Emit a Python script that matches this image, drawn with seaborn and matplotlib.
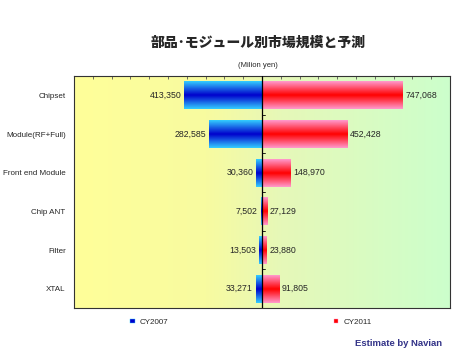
import numpy as np
import pandas as pd
import seaborn as sns
import matplotlib.pyplot as plt
from matplotlib.colors import LinearSegmentedColormap
from matplotlib.patches import Patch

# market size by component (million yen)
categories = ['Chipset', 'Module(RF+Full)', 'Front end Module', 'Chip ANT', 'Filter', 'XTAL']
cy2007 = [413350, 282585, 30360, 7502, 13503, 33271]
cy2011 = [747068, 452428, 148970, 27129, 23880, 91805]
years = ['CY2007', 'CY2011']

sns.set_style('white')
plt.rcParams['font.family'] = ['Liberation Sans', 'DejaVu Sans']

df = pd.DataFrame({
    'category': categories * 2,
    'value': [-v for v in cy2007] + cy2011,
    'year': [years[0]] * len(categories) + [years[1]] * len(categories),
})

fig = plt.figure(figsize=(4.55, 3.52), dpi=100)
ax = fig.add_axes([0.1626, 0.125, 0.8264, 0.659])

sns.barplot(data=df, x='value', y='category', hue='year', dodge=False,
            order=categories, hue_order=years, width=0.72,
            palette=['#0000cc', '#ff0000'], legend=False, ax=ax)

xlim = (-1000000, 1000000)
ylim = (len(categories) - 0.5, -0.5)

# background gradient yellow -> green
bg = LinearSegmentedColormap.from_list('bg', [(0, '#ffff99'), (0.35, '#f8fba0'),
                                              (0.55, '#e6f8b8'), (1, '#ccffcc')])
ax.imshow(np.linspace(0, 1, 256).reshape(1, -1), cmap=bg, aspect='auto',
          extent=[xlim[0], xlim[1], ylim[0], ylim[1]], zorder=0)

# bars redrawn with a vertical gradient (light edges, dark middle)
blue = LinearSegmentedColormap.from_list('b', ['#33ccff', '#0000cc', '#33ccff'])
red = LinearSegmentedColormap.from_list('r', ['#ff99cc', '#ff0000', '#ff99cc'])
grad = np.linspace(0, 1, 64).reshape(-1, 1)
for p in ax.patches:
    x, y, w, h = p.get_x(), p.get_y(), p.get_width(), p.get_height()
    if w == 0:
        continue
    cm = blue if (w < 0 or x < 0) else red
    x0, x1 = sorted([x, x + w])
    p.set_visible(False)
    ax.imshow(grad, cmap=cm, aspect='auto', extent=[x0, x1, y + h, y], zorder=2)

# value labels
for i, (a, b) in enumerate(zip(cy2007, cy2011)):
    ax.text(-a - 15000, i, f'{a:,}', ha='right', va='center', fontsize=6.3, zorder=3)
    ax.text(b + 15000, i, f'{b:,}', ha='left', va='center', fontsize=6.3, zorder=3)

ax.set_xlim(xlim)
ax.set_ylim(ylim)
ax.axvline(0, color='black', lw=0.9, zorder=3)
for yb in np.arange(0.5, len(categories) - 0.5, 1):
    ax.plot([0, 18000], [yb, yb], color='black', lw=0.6, zorder=3)

ax.set_xticks(np.arange(-1000000, 1000001, 100000))
ax.set_xticklabels([])
ax.xaxis.set_ticks_position('top')
ax.tick_params(axis='x', direction='in', length=2.5, width=0.6, color='#555555', top=True, bottom=False)
ax.tick_params(axis='y', length=0, labelsize=5.8, pad=6)
ax.set_xlabel('')
ax.set_ylabel('')
for s in ax.spines.values():
    s.set_color('#333333')
    s.set_linewidth(0.8)

fig.text(0.567, 0.88, '部品･モジュール別市場規模と予測', ha='center', va='center',
         fontsize=10, fontweight='black', family=['Noto Sans CJK JP', 'DejaVu Sans'])
fig.text(0.567, 0.815, '(Milion yen)', ha='center', va='center', fontsize=5.5)

handles = [Patch(facecolor='#0000cc', edgecolor='#33ccff', lw=0.3),
           Patch(facecolor='#ff0000', edgecolor='#ff99cc', lw=0.3)]
fig.legend(handles, years, loc='center left', bbox_to_anchor=(0.27, 0.083), ncol=2,
           frameon=False, fontsize=5.8, handlelength=0.6, handleheight=0.4,
           handletextpad=0.6, columnspacing=20.5)

fig.text(0.972, 0.023, 'Estimate by Navian', ha='right', va='center', fontsize=6.8,
         fontweight='bold', color='#333388')

fig.savefig('out.png', dpi=100)
